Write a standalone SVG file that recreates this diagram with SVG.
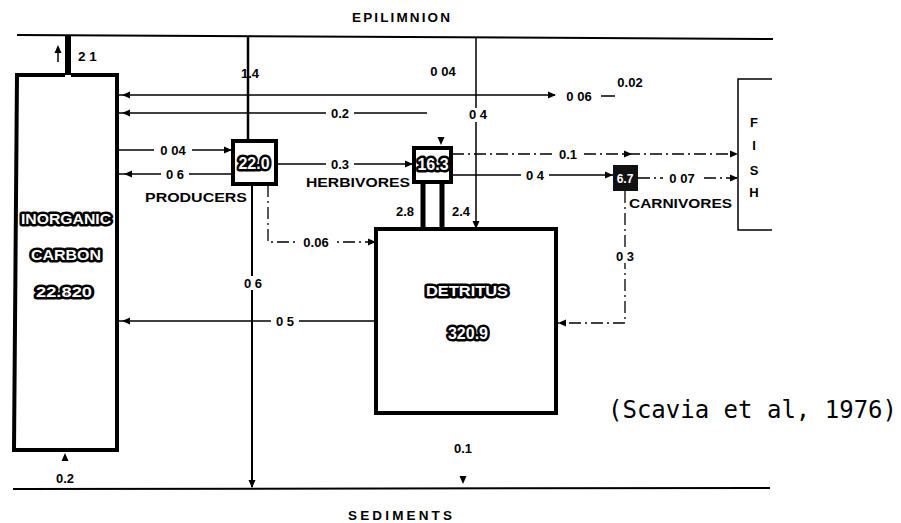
<svg xmlns="http://www.w3.org/2000/svg" xmlns:xlink="http://www.w3.org/1999/xlink" width="901" height="523" viewBox="0 0 901 523">
<style>
.bnd{stroke:#000;stroke-width:2;fill:none}
.thick{stroke:#000;stroke-width:4;fill:none}
.thin{stroke:#000;stroke-width:1.5;fill:none}
.dash{stroke:#000;stroke-width:1.3;fill:none;stroke-dasharray:12 4 2 4}
.lbl{font-family:"Liberation Sans",Arial,sans-serif;font-weight:bold;font-size:13.5px;fill:#000}
.num{font-family:"Liberation Sans",Arial,sans-serif;font-weight:bold;font-size:13px;fill:#000;text-anchor:middle}
.halo{font-family:"Liberation Sans",Arial,sans-serif;font-weight:bold;fill:#fff;stroke:#000;stroke-width:5;paint-order:stroke;stroke-linejoin:round;text-anchor:middle}
.bg{fill:#fff}
.cite{font-family:"DejaVu Sans Mono",monospace;font-size:24px;fill:#000}
</style>
<defs>
<path id="ah" d="M0,0 L-8,-3.5 L-8,3.5 Z" fill="#000"/>
</defs>
<rect width="901" height="523" fill="#fff"/>
<g id="boundaries">
<path class="bnd" d="M17,35 L773,39"/>
<path class="bnd" d="M13,489 L770,488"/>
<text class="lbl" x="401" y="22" text-anchor="middle" font-size="13" textLength="98" lengthAdjust="spacing">EPILIMNION</text>
<text class="lbl" x="400" y="520" text-anchor="middle" font-size="13" textLength="104" lengthAdjust="spacing">SEDIMENTS</text>
</g>
<g id="connectors">
<!-- inorganic carbon to epilimnion -->
<path d="M68,35 V75" stroke="#000" stroke-width="6"/>
<path class="thin" d="M58,62 V50"/>
<use xlink:href="#ah" transform="translate(58,45) rotate(-90)"/>
<text class="lbl" x="78" y="61">2 1</text>
<!-- epilimnion to producers -->
<path d="M248,36 V140" stroke="#000" stroke-width="2.5"/>
<text class="num" x="250" y="78">1.4</text>
<!-- 0.06 / 0.02 line -->
<path class="thin" d="M118,95 H555"/>
<use xlink:href="#ah" transform="translate(122,95) rotate(180)"/>
<use xlink:href="#ah" transform="translate(556,95)"/>
<path class="thin" d="M601,96 H615"/>
<text class="num" x="579" y="101">0 06</text>
<text class="num" x="630" y="87">0.02</text>
<!-- 0.2 line -->
<path class="thin" d="M118,113 H427"/>
<use xlink:href="#ah" transform="translate(122,113) rotate(180)"/>
<rect class="bg" x="326" y="106" width="28" height="14"/>
<text class="num" x="340" y="118">0.2</text>
<!-- epilimnion to detritus -->
<path class="thin" d="M476,38 V229"/>
<use xlink:href="#ah" transform="translate(476,229) rotate(90)"/>
<text class="num" x="443" y="76">0 04</text>
<rect class="bg" x="465" y="108" width="26" height="14"/>
<text class="num" x="478" y="119">0 4</text>
<!-- inorganic to producers -->
<path class="thin" d="M118,150 H232"/>
<use xlink:href="#ah" transform="translate(232,150)"/>
<rect class="bg" x="154" y="143" width="38" height="14"/>
<text class="num" x="173" y="155">0 04</text>
<!-- producers to inorganic -->
<path class="thin" d="M232,174 H118"/>
<use xlink:href="#ah" transform="translate(124,174) rotate(180)"/>
<rect class="bg" x="161" y="167" width="28" height="14"/>
<text class="num" x="175" y="179">0 6</text>
<!-- producers to herbivores -->
<path class="thin" d="M277,164 H413"/>
<use xlink:href="#ah" transform="translate(413,164)"/>
<rect class="bg" x="326" y="157" width="28" height="14"/>
<text class="num" x="340" y="169">0.3</text>
<!-- producers to sediments -->
<path d="M252,185 V487" stroke="#000" stroke-width="2"/>
<use xlink:href="#ah" transform="translate(252,488) rotate(90)"/>
<rect class="bg" x="239" y="276" width="28" height="14"/>
<text class="num" x="253" y="288">0 6</text>
<!-- producers to detritus -->
<path class="dash" d="M268,185 V242 H375"/>
<use xlink:href="#ah" transform="translate(376,242)"/>
<rect class="bg" x="297" y="235" width="38" height="14"/>
<text class="num" x="316" y="247">0.06</text>
<!-- herbivores to fish -->
<path class="dash" d="M452,154 H737"/>
<use xlink:href="#ah" transform="translate(632,154)"/>
<use xlink:href="#ah" transform="translate(738,154)"/>
<rect class="bg" x="554" y="147" width="28" height="14"/>
<text class="num" x="568" y="159">0.1</text>
<!-- herbivores to carnivores -->
<path class="thin" d="M452,175 H613"/>
<use xlink:href="#ah" transform="translate(613,175)"/>
<rect class="bg" x="521" y="168" width="28" height="14"/>
<text class="num" x="535" y="180">0 4</text>
<!-- herbivores to detritus -->
<path d="M423,183 V229 M442,183 V229" stroke="#000" stroke-width="5"/>
<text class="num" x="405" y="216">2.8</text>
<text class="num" x="461" y="216">2.4</text>
<use xlink:href="#ah" transform="translate(441,145) rotate(90)"/>
<!-- carnivores to fish -->
<path class="dash" d="M638,178 H737"/>
<use xlink:href="#ah" transform="translate(738,178)"/>
<rect class="bg" x="663" y="171" width="38" height="14"/>
<text class="num" x="682" y="183">0 07</text>
<!-- carnivores to detritus -->
<path class="dash" d="M625,191 V323 H558"/>
<use xlink:href="#ah" transform="translate(558,323) rotate(180)"/>
<rect class="bg" x="611" y="249" width="28" height="14"/>
<text class="num" x="625" y="261">0 3</text>
<!-- detritus to inorganic -->
<path class="thin" d="M376,321 H118"/>
<use xlink:href="#ah" transform="translate(122,321) rotate(180)"/>
<rect class="bg" x="271" y="314" width="28" height="14"/>
<text class="num" x="285" y="326">0 5</text>
<!-- detritus to sediments -->
<text class="num" x="463" y="453">0.1</text>
<use xlink:href="#ah" transform="translate(463,484) rotate(90)"/>
<!-- sediments to inorganic -->
<use xlink:href="#ah" transform="translate(65,453) rotate(-90)"/>
<text class="num" x="65" y="483">0.2</text>
</g>
<g id="inorganic-carbon">
<path class="thick" d="M65,75 H17 L14,450 H117 V75 H71"/>
<text class="halo" x="66" y="224" font-size="15" textLength="90" lengthAdjust="spacingAndGlyphs">INORGANIC</text>
<text class="halo" x="66" y="260" font-size="15" textLength="70" lengthAdjust="spacingAndGlyphs">CARBON</text>
<text class="halo" x="64" y="297" font-size="15" textLength="56" lengthAdjust="spacingAndGlyphs">22.820</text>
</g>
<g id="producers">
<rect class="thick" x="233" y="141" width="43" height="43"/>
<text class="halo" x="254" y="169" font-size="16">22.0</text>
<text class="lbl" x="145" y="202" textLength="102" lengthAdjust="spacingAndGlyphs">PRODUCERS</text>
</g>
<g id="herbivores">
<rect class="thick" x="414" y="148" width="37" height="34"/>
<text class="halo" x="433" y="170" font-size="16">16.3</text>
<text class="lbl" x="306" y="187" textLength="104" lengthAdjust="spacingAndGlyphs">HERBIVORES</text>
</g>
<g id="carnivores">
<rect x="613" y="165" width="25" height="26" fill="#111"/>
<text x="625" y="183" font-family="Liberation Sans, Arial, sans-serif" font-weight="bold" font-size="12" fill="#fff" text-anchor="middle">6.7</text>
<text class="lbl" x="629" y="208" textLength="103" lengthAdjust="spacingAndGlyphs">CARNIVORES</text>
</g>
<g id="detritus">
<rect class="thick" x="376" y="229" width="180" height="184"/>
<text class="halo" x="467" y="296" font-size="15" textLength="82" lengthAdjust="spacingAndGlyphs">DETRITUS</text>
<text class="halo" x="468" y="339" font-size="16">320.9</text>
</g>
<g id="fish">
<path class="thin" d="M772,79 H738 V230 H772"/>
<text class="num" x="754" y="127">F</text>
<text class="num" x="754" y="150">I</text>
<text class="num" x="754" y="175">S</text>
<text class="num" x="754" y="197">H</text>
</g>
<text class="cite" x="608" y="418">(Scavia et al, 1976)</text>
</svg>
